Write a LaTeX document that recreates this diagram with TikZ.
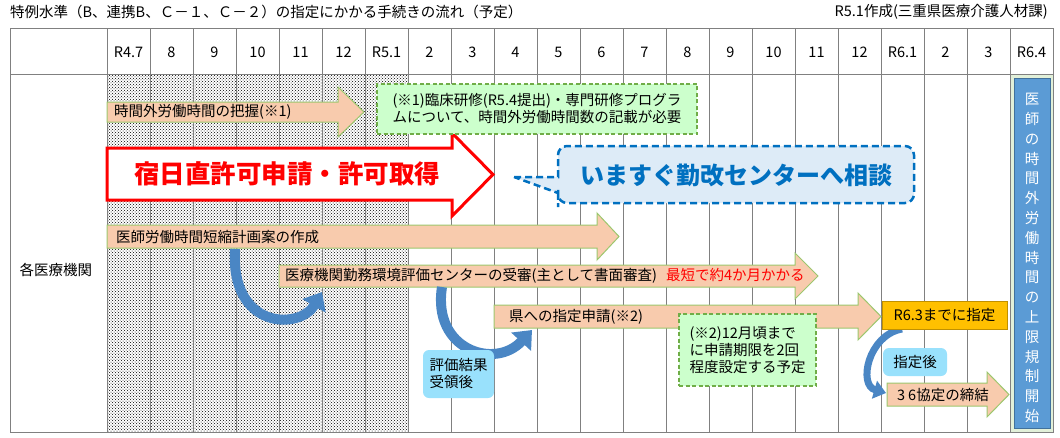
\documentclass[tikz,border=0pt]{standalone}
\usepackage{fontspec}
\setmainfont{Noto Sans CJK JP}
\usetikzlibrary{arrows.meta,patterns}
\definecolor{gridgray}{HTML}{808080}
\definecolor{barfill}{HTML}{F8CBAD}
\definecolor{barline}{HTML}{9CC76E}
\definecolor{notefill}{HTML}{CCFFCC}
\definecolor{noteline}{HTML}{70AD47}
\definecolor{callfill}{HTML}{DDEBF7}
\definecolor{callblue}{HTML}{0070C0}
\definecolor{curvblue}{HTML}{4A86C4}
\definecolor{tagfill}{HTML}{99E1FC}
\definecolor{gold}{HTML}{FFC000}
\definecolor{goldline}{HTML}{C09000}
\definecolor{capblue}{HTML}{5B9BD5}
\definecolor{capline}{HTML}{41719C}
\definecolor{capcell}{HTML}{E2F0D9}
\definecolor{alarm}{HTML}{FF0000}

\begin{document}
\begin{tikzpicture}[
  x=1pt,y=-1pt,line join=miter,
  txt/.style={font=\fontsize{14.5}{17}\selectfont,inner sep=0pt},
  month/.style={txt,anchor=center},
  bar/.style={draw=barline,fill=barfill,line width=1pt},
  bartext/.style={txt,anchor=west},
  note/.style={txt,draw=noteline,fill=notefill,line width=1.4pt,
    dash pattern=on 4pt off 2.5pt,align=left},
  tag/.style={txt,fill=tagfill,rounded corners=6pt},
  curv/.style={draw=curvblue,line width=10pt,
    -{Triangle[length=16pt,width=26pt]}},
  bigtext/.style={inner sep=0pt,font=\fontsize{25.5}{30}\selectfont\bfseries}
]
\useasboundingbox (0,0) rectangle (1060,437);

% titles above the table
\node[txt,anchor=west] (title) at (10,12)
  {特例水準（B、連携B、Ｃ－１、Ｃ－２）の指定にかかる手続きの流れ（予定）};
\node[txt,anchor=east] (made) at (1048,12) {R5.1作成(三重県医療介護人材課)};

% table: shaded months, capstone cell, lines
\fill[pattern=crosshatch dots] (107,74) rectangle (408,432);
\fill[capcell] (1010,74) rectangle (1053,432);
\foreach \i in {0,...,22}
  \draw[gridgray] ({107+43*\i},28) -- ({107+43*\i},432);
\draw[gridgray] (10,28) rectangle (1053,432);
\draw[gridgray] (10,74) -- (1053,74);
\foreach \lab [count=\i from 0] in
    {R4.7,8,9,10,11,12,R5.1,2,3,4,5,6,7,8,9,10,11,12,R6.1,2,3,R6.4}
  \node[month] (m\i) at ({128.5+43*\i},52) {\lab};
\node[txt] (kikan) at (56,270) {各医療機関};

% step bars
\draw[bar] (107,102) -- (338,102) -- (338,87) -- (364,112)
  -- (338,137) -- (338,122) -- (107,122) -- cycle;
\node[bartext] (haaku) at (114,112) {時間外労働時間の把握(※1)};

\draw[bar] (107,225) -- (597,225) -- (597,213) -- (619,236.5)
  -- (597,260) -- (597,248) -- (107,248) -- cycle;
\node[bartext] (keikaku) at (116,237) {医師労働時間短縮計画案の作成};

\draw[bar] (279,265) -- (795,265) -- (795,253) -- (818,276)
  -- (795,299) -- (795,287) -- (279,287) -- cycle;
\node[bartext] (jushin) at (285,276)
  {医療機関勤務環境評価センターの受審(主として書面審査)\hspace{9pt}\textcolor{alarm}{最短で約4か月かかる}};

\draw[bar] (494,305) -- (858,305) -- (858,293) -- (881,316.5)
  -- (858,340) -- (858,328) -- (494,328) -- cycle;
\node[bartext] (shinsei) at (509,316.5) {県への指定申請(※2)};

\draw[bar] (887,383) -- (987,383) -- (987,372) -- (1009,394.5)
  -- (987,417) -- (987,406) -- (887,406) -- cycle;
\node[bartext] (kyotei) at (897,395) {3\hspace{3pt}6協定の締結};

% the duty-permission arrow
\draw[alarm,fill=white,line width=3pt] (107,148) -- (452,148) -- (452,133)
  -- (493,174.5) -- (452,216) -- (452,200) -- (107,200) -- cycle;
\node[bigtext,text=alarm] (shukuchoku) at (287,174) {宿日直許可申請・許可取得};

% notes
\node[note,minimum width=320pt,minimum height=50pt] (note1) at (537,109)
  {(※1)臨床研修(R5.4提出)・専門研修プログラ\\ムについて、時間外労働時間数の記載が必要};
\node[note,minimum width=137pt,minimum height=72pt] (note2) at (747.5,350)
  {(※2)12月頃まで\\に申請期限を2回\\程度設定する予定};

% call to the centre
\draw[callblue,fill=callfill,line width=2.5pt,dash pattern=on 7pt off 4pt]
  (514,177) -- (558,177) -- (558,165) [rounded corners=9pt] -- (558,146)
  -- (914,146) -- (914,203) -- (558,203) -- (558,198) [sharp corners]
  -- (558,193) -- cycle;
\node[inner sep=0pt,text=callblue,font=\fontsize{24}{28}\selectfont\bfseries]
  (soudan) at (736,175) {いますぐ勤改センターへ相談};

% hand-over arrows
\coordinate (c1a) at (235,249);
\coordinate (c1b) at (322,292);
\coordinate (c2a) at (442,287);
\coordinate (c2b) at (532,330);
\coordinate (c3a) at (902,329);
\coordinate (c3b) at (886,393);
\draw[curv] (c1a) .. controls (230,330) and (300,330) .. (c1b);
\draw[curv] (c2a) .. controls (432,350) and (495,370) .. (c2b);
\draw[curv,line width=7pt,-{Triangle[length=12pt,width=18pt]}]
  (c3a) .. controls (868,335) and (858,385) .. (c3b);

% tags and the designation box
\node[tag,minimum width=71pt,minimum height=48pt,align=left] (hyouka)
  at (458.5,374) {評価結果\\受領後};
\node[tag,minimum width=64pt,minimum height=28pt] (shiteigo)
  at (915,362) {指定後};
\node[txt,draw=goldline,fill=gold,line width=1pt,minimum width=125pt,
  minimum height=28pt] (shitei) at (944.5,315) {R6.3までに指定};

% start of the cap
\node[draw=capline,fill=capblue,line width=1pt,minimum width=36pt,
  minimum height=350pt,inner sep=0pt] (capbox) at (1032,253) {};
\node[txt,text=white,align=center,font=\fontsize{14.5}{19.8}\selectfont]
  (kisei) at (1032,258)
  {医\\師\\の\\時\\間\\外\\労\\働\\時\\間\\の\\上\\限\\規\\制\\開\\始};

\end{tikzpicture}
\end{document}
